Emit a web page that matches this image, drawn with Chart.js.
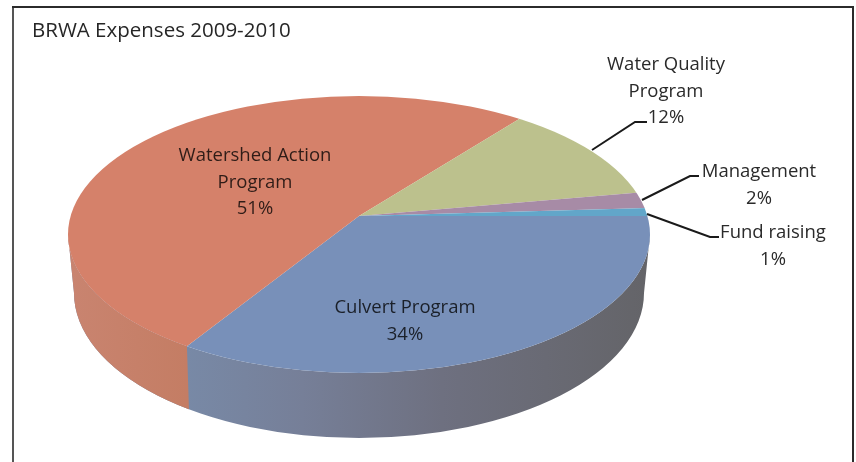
<!DOCTYPE html>
<html>
<head>
<meta charset="utf-8">
<style>
  html, body { margin: 0; padding: 0; background: #fff; }
  canvas { display: block; }
</style>
<script src="https://cdn.jsdelivr.net/npm/chart.js@4"></script>
</head>
<body>
<canvas id="expenses" width="856" height="462"></canvas>
<script>
var chartTitle = "BRWA Expenses 2009-2010";
var categories = ["Culvert Program", "Watershed Action Program", "Water Quality Program", "Management", "Fund raising"];
var expenseShare = [34, 51, 12, 2, 1];
var sliceColors = ["#7890b9", "#d5816a", "#bcc18d", "#a78ba6", "#62a6c9"];

// where the text goes, one entry per category: first line centre, words on first line
var labelSpots = [
  { x: 405, y: 308, words: 2 },
  { x: 255, y: 156, words: 2 },
  { x: 666, y: 65, words: 2 },
  { x: 759, y: 172, words: 1 },
  { x: 773, y: 233, words: 2 }
];
// leader lines: only the small slices have one
var leaders = [
  null,
  null,
  [[592, 150], [635, 122], [647, 122]],
  [[642, 200], [690, 176], [699, 176]],
  [[647, 214], [710, 237], [719, 237]]
];

// the tilted disc
var apex = { x: 359, y: 216 };
var topRim = { x: 359, y: 234.5, rx: 291, ry: 138.5 };
var lowRim = { x: 359, y: 293, rx: 285, ry: 145 };
var squashUp = 0.44;
var squashDown = 0.48;
var overshoot = 1.25;
var seamLean = 3;
var textFont = '18.5px "Open Sans"';

function rimPath(ctx) {
  ctx.beginPath();
  ctx.ellipse(topRim.x, topRim.y, topRim.rx, topRim.ry, 0, 0, Math.PI * 2);
}

// x where a slice edge (library angle) meets the rim
function seamX(angle) {
  var dx = topRim.rx * Math.cos(angle);
  var dy = topRim.rx * squashDown * Math.sin(angle);
  var oy = apex.y - topRim.y;
  var a = dx * dx / (topRim.rx * topRim.rx) + dy * dy / (topRim.ry * topRim.ry);
  var b = 2 * oy * dy / (topRim.ry * topRim.ry);
  var c = oy * oy / (topRim.ry * topRim.ry) - 1;
  var s = (-b + Math.sqrt(b * b - 4 * a * c)) / (2 * a);
  return apex.x + s * dx;
}

function drawWall(chart) {
  var ctx = chart.ctx;
  var arcs = chart.getDatasetMeta(0).data;
  var seam = seamX(arcs[0].endAngle);

  ctx.save();
  ctx.beginPath();
  ctx.ellipse(topRim.x, topRim.y, topRim.rx, topRim.ry, 0, 0, Math.PI);
  ctx.lineTo(lowRim.x - lowRim.rx, lowRim.y);
  ctx.ellipse(lowRim.x, lowRim.y, lowRim.rx, lowRim.ry, 0, Math.PI, 0, true);
  ctx.closePath();
  ctx.clip();

  var blue = ctx.createLinearGradient(seam, 0, topRim.x + topRim.rx, 0);
  blue.addColorStop(0, "#7889a6");
  blue.addColorStop(0.25, "#767f98");
  blue.addColorStop(0.55, "#6e7080");
  blue.addColorStop(1, "#646468");
  ctx.fillStyle = blue;
  ctx.fillRect(0, 0, chart.width, chart.height);

  var red = ctx.createLinearGradient(topRim.x - topRim.rx, 0, seam, 0);
  red.addColorStop(0, "#c98470");
  red.addColorStop(1, "#c47d64");
  ctx.fillStyle = red;
  ctx.beginPath();
  ctx.moveTo(0, 0);
  ctx.lineTo(seam, 0);
  ctx.lineTo(seam, topRim.y + topRim.ry * 0.8);
  ctx.lineTo(seam + seamLean, lowRim.y + lowRim.ry);
  ctx.lineTo(0, lowRim.y + lowRim.ry);
  ctx.closePath();
  ctx.fill();
  ctx.restore();
}

function drawFace(chart, clipTop, clipBottom, squash) {
  var ctx = chart.ctx;
  var arcs = chart.getDatasetMeta(0).data;
  var r = arcs[0].outerRadius;
  var sx = topRim.rx * overshoot / r;

  ctx.save();
  rimPath(ctx);
  ctx.clip();
  ctx.beginPath();
  ctx.rect(0, clipTop, chart.width, clipBottom - clipTop);
  ctx.clip();
  ctx.translate(apex.x, apex.y);
  ctx.scale(sx, sx * squash);
  ctx.translate(-arcs[0].x, -arcs[0].y);
  for (var i = 0; i < arcs.length; i++) {
    arcs[i].draw(ctx);
  }
  ctx.restore();
}

var tiltedPie = {
  id: "tiltedPie",
  beforeDraw: function (chart) {
    var ctx = chart.ctx;
    ctx.save();
    ctx.fillStyle = "#fff";
    ctx.fillRect(0, 0, chart.width, chart.height);
    ctx.strokeStyle = "#555";
    ctx.lineWidth = 2;
    ctx.beginPath();
    ctx.moveTo(13, chart.height);
    ctx.lineTo(13, 7);
    ctx.stroke();
    ctx.strokeStyle = "#2b2b2b";
    ctx.beginPath();
    ctx.moveTo(12, 7);
    ctx.lineTo(853, 7);
    ctx.lineTo(853, chart.height);
    ctx.stroke();
    ctx.restore();
  },
  beforeDatasetDraw: function (chart) {
    drawWall(chart);
    drawFace(chart, 0, apex.y, squashUp);
    drawFace(chart, apex.y, chart.height, squashDown);
    return false;
  },
  afterDraw: function (chart) {
    var ctx = chart.ctx;
    ctx.save();
    ctx.font = textFont;
    ctx.textAlign = "center";
    ctx.textBaseline = "middle";
    for (var i = 0; i < categories.length; i++) {
      var spot = labelSpots[i];
      var words = categories[i].split(" ");
      var lines = [words.slice(0, spot.words).join(" ")];
      if (words.length > spot.words) {
        lines.push(words.slice(spot.words).join(" "));
      }
      lines.push(expenseShare[i] + "%");
      ctx.fillStyle = i < 2 ? "rgba(0,0,0,0.78)" : "#2a2a2a";
      for (var j = 0; j < lines.length; j++) {
        ctx.fillText(lines[j], spot.x, spot.y + j * 26.5);
      }
      if (leaders[i]) {
        ctx.strokeStyle = "#1a1a1a";
        ctx.lineWidth = 2;
        ctx.beginPath();
        ctx.moveTo(leaders[i][0][0], leaders[i][0][1]);
        ctx.lineTo(leaders[i][1][0], leaders[i][1][1]);
        ctx.lineTo(leaders[i][2][0], leaders[i][2][1]);
        ctx.stroke();
      }
    }
    ctx.restore();
  }
};

new Chart(document.getElementById("expenses").getContext("2d"), {
  type: "pie",
  data: {
    labels: categories,
    datasets: [{
      data: expenseShare,
      backgroundColor: sliceColors,
      borderWidth: 0
    }]
  },
  options: {
    responsive: false,
    animation: false,
    rotation: 90,
    layout: { padding: { left: 32, top: 19 } },
    plugins: {
      legend: { display: false },
      tooltip: { enabled: false },
      title: {
        display: true,
        text: chartTitle,
        align: "start",
        color: "#262626",
        font: { family: "Open Sans", size: 20.5, weight: "normal" },
        padding: { top: 0, bottom: 10 }
      }
    }
  },
  plugins: [tiltedPie]
});
</script>
</body>
</html>
